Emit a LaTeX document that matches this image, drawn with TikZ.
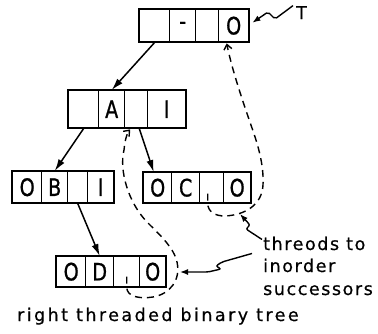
\documentclass[tikz,border=0pt]{standalone}
\usepackage{fontspec}
\setmainfont{DejaVu Sans}
\newfontfamily\lblfont[LetterSpace=9,FakeBold=0.6]{DejaVu Sans}
\newfontfamily\capfont[LetterSpace=14,FakeBold=0.6]{DejaVu Sans}
\newfontfamily\cellfont[FakeStretch=0.8,FakeBold=0.8]{DejaVu Sans}
\usetikzlibrary{arrows.meta,calc}
\begin{document}
\begin{tikzpicture}[x=1pt,y=-1pt,
  cell/.style={draw,line width=1.4pt,inner sep=0pt,anchor=north west,
    font=\cellfont\fontsize{24}{24}\selectfont},
  frame/.style={line width=1.9pt},
  link/.style={line width=1.5pt,-{Latex[length=12pt,width=7pt]}},
  thread/.style={line width=1.4pt,dash pattern=on 7pt off 5pt,
    -{Straight Barb[length=5pt,width=8pt]}},
  pointer/.style={line width=1.4pt,-{Latex[length=8pt,width=6pt]}},
  lbl/.style={inner sep=0pt,anchor=base west,font=\lblfont\fontsize{17.5}{20}\selectfont},
  captext/.style={inner sep=0pt,anchor=base west,font=\capfont\fontsize{17.5}{20}\selectfont},
]
\useasboundingbox (0,0) rectangle (378,333);

% top (head) node
\node[cell,minimum width=30pt,minimum height=32pt] (t1) at (139,9) {};
\node[cell,minimum width=26pt,minimum height=32pt] (t2) at (169,9) {-};
\node[cell,minimum width=23pt,minimum height=32pt] (t3) at (195,9) {};
\node[cell,minimum width=30pt,minimum height=32pt] (t4) at (218,9) {O};
\draw[frame] (t1.north west) rectangle (t4.south east);

% A node
\node[cell,minimum width=30pt,minimum height=37pt] (a1) at (68,90) {};
\node[cell,minimum width=26pt,minimum height=37pt] (a2) at (98,90) {A};
\node[cell,minimum width=23pt,minimum height=37pt] (a3) at (124,90) {};
\node[cell,minimum width=38pt,minimum height=37pt] (a4) at (147,90) {I};
\draw[frame] (a1.north west) rectangle (a4.south east);

% B node
\node[cell,minimum width=29pt,minimum height=31pt] (b1) at (12,171) {O};
\node[cell,minimum width=26pt,minimum height=31pt] (b2) at (41,171) {B};
\node[cell,minimum width=20pt,minimum height=31pt] (b3) at (67,171) {};
\node[cell,minimum width=26pt,minimum height=31pt] (b4) at (87,171) {I};
\draw[frame] (b1.north west) rectangle (b4.south east);

% C node
\node[cell,minimum width=28pt,minimum height=30pt] (c1) at (143,172) {O};
\node[cell,minimum width=28pt,minimum height=30pt] (c2) at (171,172) {C};
\node[cell,minimum width=24pt,minimum height=30pt] (c3) at (199,172) {};
\node[cell,minimum width=27pt,minimum height=30pt] (c4) at (223,172) {O};
\draw[frame] (c1.north west) rectangle (c4.south east);

% D node
\node[cell,minimum width=29pt,minimum height=30pt] (d1) at (56,256) {O};
\node[cell,minimum width=28pt,minimum height=30pt] (d2) at (85,256) {D};
\node[cell,minimum width=26pt,minimum height=30pt] (d3) at (113,256) {};
\node[cell,minimum width=26pt,minimum height=30pt] (d4) at (139,256) {O};
\draw[frame] (d1.north west) rectangle (d4.south east);

% links
\draw[link] (t1.south) -- (a2.north);
\draw[link] (a1.south) -- (b2.north);
\draw[link] ($(a3.south)+(3,0)$) -- ($(c1.north)+(-4,0)$);
\draw[link] (b3.south) -- (d2.north);

% threads
\draw[thread] ($(d3.center)+(0,5)$) -- (d3.south)
  .. controls (127,297) and (140,299) .. (153,297)
  .. controls (170,294) and (181,280) .. (177,262)
  .. controls (174,248) and (160,235) .. (148,223)
  .. controls (128,203) and (119,170) .. (124,150)
  .. controls (125,140) and (127,133) .. ($(a3.south)+(-6,1)$);
\draw[thread] ($(c3.center)+(-4,6)$) -- ($(c3.south)+(-4,0)$)
  .. controls (208,212) and (215,216) .. (225,216)
  .. controls (245,215) and (262,205) .. (263,185)
  .. controls (264,165) and (258,145) .. (252,128)
  .. controls (244,105) and (232,70) .. ($(t4.south)+(-7,1)$);

% labels
\node[lbl] (tl) at (296,19) {T};
\node[lbl] (thr1) at (263,250) {threods to};
\node[lbl] (thr2) at (263,272) {inorder};
\node[lbl] (thr3) at (263,295) {successors};
\node[captext] (title) at (17,321) {right threaded binary tree};

\coordinate (cloop) at (240,214);
\coordinate (dloop) at (180,272);

% pointers
\draw[pointer,rounded corners=2pt] ($(tl.west)+(-3,-7)$) -- (275,19) -- (268,12) -- ($(t4.east)+(3,-3)$);
\draw[pointer,rounded corners=2pt] ($(thr1.west)+(-1,-4)$) -- (246,229) -- (250,225) -- (cloop);
\draw[pointer,rounded corners=2pt] ($(thr2.west)+(-11,-12)$) -- (222,262)
  -- (216,266) -- (221,269) -- (208,272) -- (dloop);
\end{tikzpicture}
\end{document}
